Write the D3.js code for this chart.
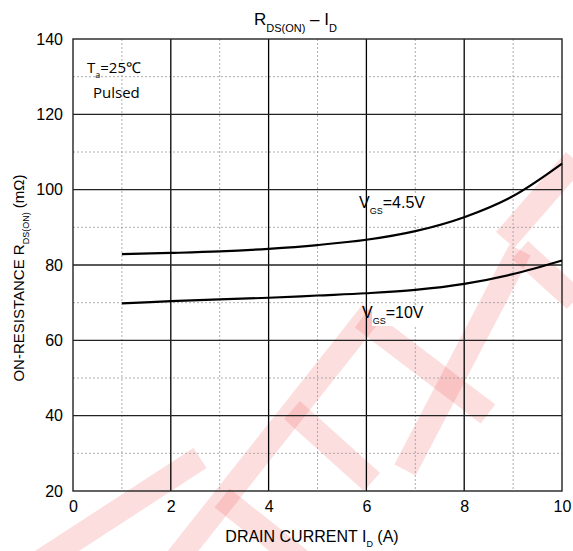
<!DOCTYPE html>
<html>
<head>
<meta charset="utf-8">
<script src="https://cdn.jsdelivr.net/npm/d3@7"></script>
<style>
  body { margin: 0; background: #fff; }
  text { font-family: "Liberation Sans", Arial, sans-serif; fill: #000; }
</style>
</head>
<body>
<div class="root"></div>
<script>
// drain current (A) and on-resistance (mOhm)
var currentA = [1, 2, 3, 4, 5, 6, 7, 8, 9, 10];
var rdsVgs45 = [82.9, 83.2, 83.6, 84.3, 85.3, 86.7, 89.0, 92.7, 98.3, 106.9];
var rdsVgs10 = [69.8, 70.4, 70.9, 71.3, 71.9, 72.5, 73.4, 75.0, 77.6, 81.2];

var xTicks = [0, 2, 4, 6, 8, 10];
var xMinor = [1, 3, 5, 7, 9];
var yTicks = [20, 40, 60, 80, 100, 120, 140];
var yMinor = [30, 50, 70, 90, 110, 130];

var w = 573, h = 551;
var plotL = 73, plotR = 562, plotT = 39, plotB = 491;

var svg = d3.select('.root').append('svg')
  .attr('width', w)
  .attr('height', h);

var x = d3.scaleLinear().domain([0, 10]).range([plotL, plotR]);
var y = d3.scaleLinear().domain([20, 140]).range([plotB, plotT]);

// faint red watermark strokes
var wm = svg.append('g')
  .attr('stroke', 'rgba(240,90,90,0.2)')
  .attr('stroke-width', 24)
  .attr('stroke-linecap', 'butt')
  .attr('fill', 'none');
[
  [[40, 562], [200, 458]],
  [[172, 565], [372, 312]],
  [[362, 318], [488, 414]],
  [[292, 410], [372, 482]],
  [[222, 498], [300, 560]],
  [[405, 470], [520, 250]],
  [[505, 240], [575, 160]],
  [[520, 250], [575, 300]]
].forEach(function(s) {
  wm.append('path').attr('d', d3.line()(s));
});

// minor grid (dotted)
svg.append('g').selectAll('line')
  .data(xMinor).enter().append('line')
    .attr('x1', function(d) { return x(d); })
    .attr('x2', function(d) { return x(d); })
    .attr('y1', plotT).attr('y2', plotB)
    .attr('stroke', '#999').attr('stroke-width', 0.8)
    .attr('stroke-dasharray', '2,2');
svg.append('g').selectAll('line')
  .data(yMinor).enter().append('line')
    .attr('y1', function(d) { return y(d); })
    .attr('y2', function(d) { return y(d); })
    .attr('x1', plotL).attr('x2', plotR)
    .attr('stroke', '#999').attr('stroke-width', 0.8)
    .attr('stroke-dasharray', '2,2');

// major grid
svg.append('g').selectAll('line')
  .data(xTicks.slice(1, -1)).enter().append('line')
    .attr('x1', function(d) { return x(d); })
    .attr('x2', function(d) { return x(d); })
    .attr('y1', plotT).attr('y2', plotB)
    .attr('stroke', '#000').attr('stroke-width', 1.3);
svg.append('g').selectAll('line')
  .data(yTicks.slice(1, -1)).enter().append('line')
    .attr('y1', function(d) { return y(d); })
    .attr('y2', function(d) { return y(d); })
    .attr('x1', plotL).attr('x2', plotR)
    .attr('stroke', '#222').attr('stroke-width', 1.3);

svg.append('rect')
  .attr('x', plotL).attr('y', plotT)
  .attr('width', plotR - plotL).attr('height', plotB - plotT)
  .attr('fill', 'none').attr('stroke', '#222').attr('stroke-width', 1.4);

// axes tick labels
var xAxis = svg.append('g')
  .attr('transform', 'translate(0,' + plotB + ')')
  .call(d3.axisBottom(x).tickValues(xTicks).tickSize(0).tickPadding(6));
var yAxis = svg.append('g')
  .attr('transform', 'translate(' + plotL + ',0)')
  .call(d3.axisLeft(y).tickValues(yTicks).tickSize(0).tickPadding(10));
[xAxis, yAxis].forEach(function(a) {
  a.select('.domain').remove();
  a.selectAll('text')
    .style('font-family', '"Liberation Sans", Arial, sans-serif')
    .style('font-size', '16px')
    .attr('fill', '#000');
});
xAxis.selectAll('text').attr('dy', '0.95em');

// curves
var line = d3.line()
  .x(function(d) { return x(d[0]); })
  .y(function(d) { return y(d[1]); })
  .curve(d3.curveCatmullRom.alpha(0.5));

[rdsVgs45, rdsVgs10].forEach(function(series) {
  svg.append('path')
    .datum(currentA.map(function(c, i) { return [c, series[i]]; }))
    .attr('d', line)
    .attr('fill', 'none')
    .attr('stroke', '#000')
    .attr('stroke-width', 2.2);
});

// curve labels
function vgsLabel(px, py, val) {
  svg.append('rect')
    .attr('x', px + 10).attr('y', py - 13)
    .attr('width', 60).attr('height', 21)
    .attr('fill', '#fff');
  var t = svg.append('text')
    .attr('x', px).attr('y', py)
    .style('font-size', '16px');
  t.append('tspan').text('V');
  t.append('tspan').attr('dy', 6).style('font-size', '9px').text('GS');
  t.append('tspan').attr('dy', -6).text(val);
}
vgsLabel(359, 208, '=4.5V');
vgsLabel(362, 318, '=10V');

// condition note
var note = svg.append('text')
  .attr('x', 87).attr('y', 73)
  .style('font-family', '"Open Sans", sans-serif')
  .style('font-size', '15px');
note.append('tspan').text('T');
note.append('tspan').attr('dy', 5).style('font-size', '9px').text('a');
note.append('tspan').attr('dy', -5).text('=25\u2103');
svg.append('text')
  .attr('x', 93).attr('y', 98)
  .style('font-family', '"Open Sans", sans-serif')
  .style('font-size', '15px')
  .text('Pulsed');

// title
var title = svg.append('text')
  .attr('x', 254).attr('y', 25)
  .style('font-size', '17px');
title.append('tspan').text('R');
title.append('tspan').attr('dy', 7).style('font-size', '11px').text('DS(ON)');
title.append('tspan').attr('dy', -7).text(' \u2013 I');
title.append('tspan').attr('dy', 7).style('font-size', '11px').text('D');

// x axis title
var xt = svg.append('text')
  .attr('x', 312).attr('y', 542)
  .attr('text-anchor', 'middle')
  .style('font-size', '16px');
xt.append('tspan').text('DRAIN CURRENT I');
xt.append('tspan').attr('dy', 5).style('font-size', '9px').text('D');
xt.append('tspan').attr('dy', -5).text(' (A)');

// y axis title
var yt = svg.append('text')
  .attr('transform', 'translate(24,278) rotate(-90)')
  .attr('text-anchor', 'middle')
  .style('font-size', '15px');
yt.append('tspan').text('ON-RESISTANCE R');
yt.append('tspan').attr('dy', 5).style('font-size', '9px').text('DS(ON)');
yt.append('tspan').attr('dy', -5).text(' (m\u03A9)');
</script>
</body>
</html>
